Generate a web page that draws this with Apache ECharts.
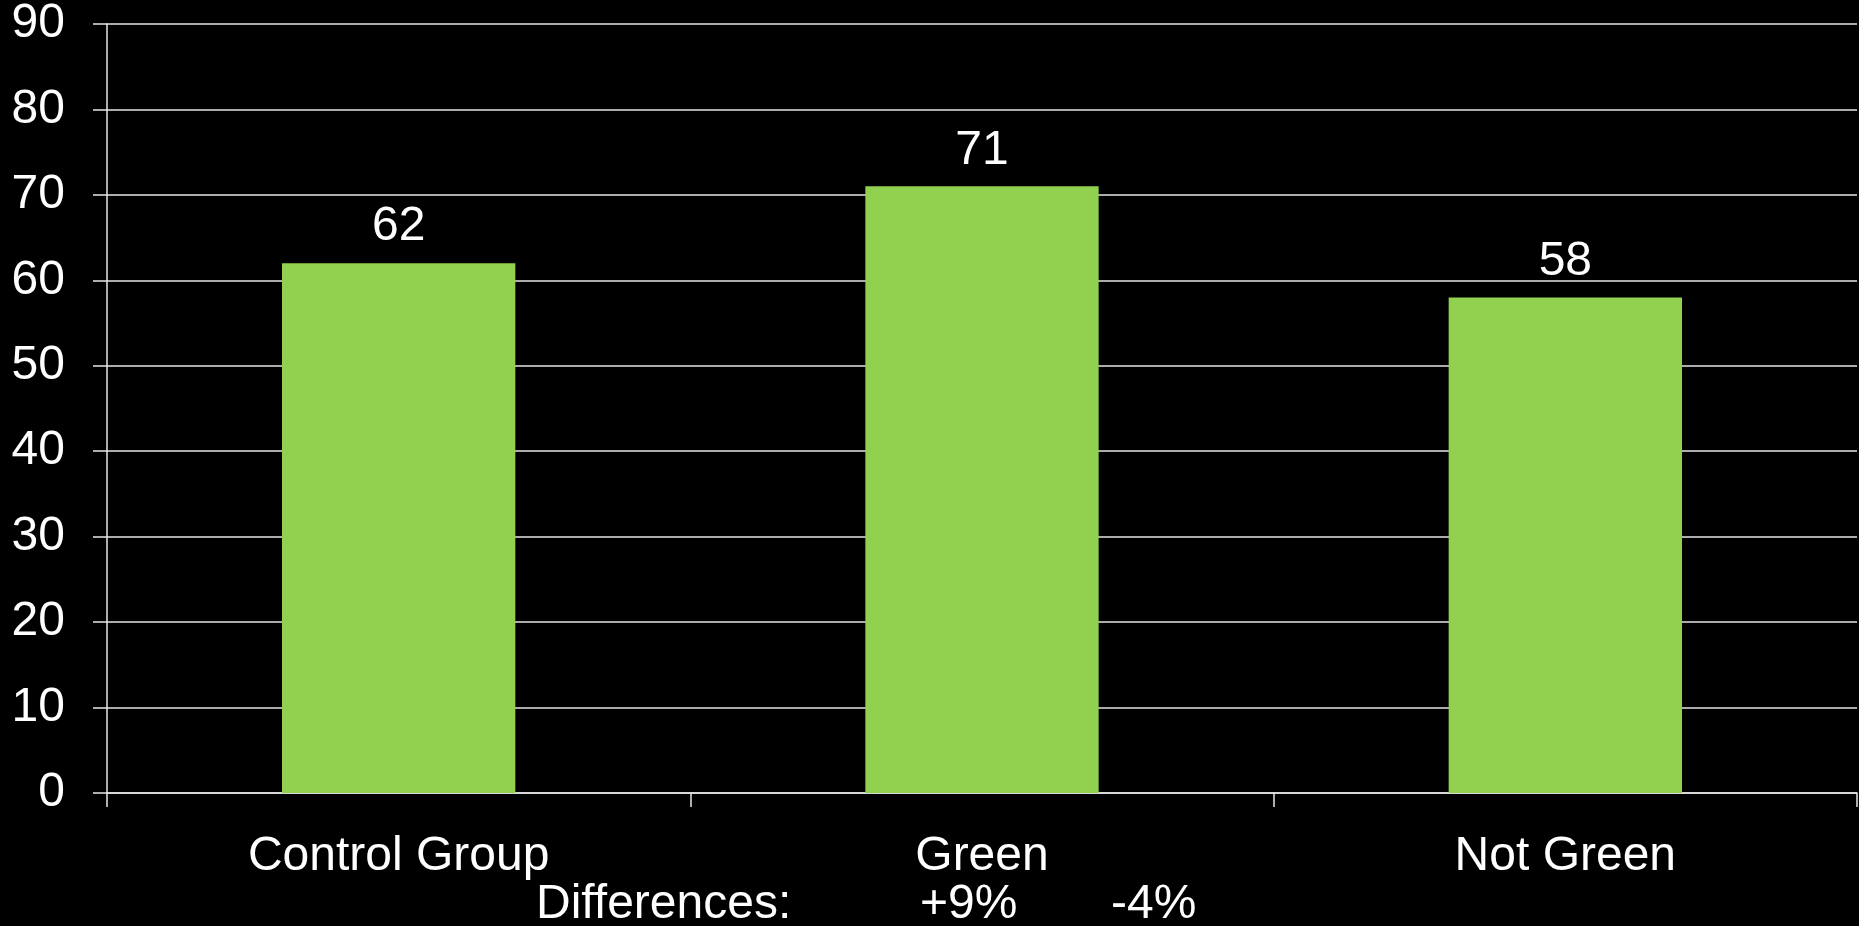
<!DOCTYPE html>
<html>
<head>
<meta charset="utf-8">
<script src="https://cdn.jsdelivr.net/npm/echarts@6/dist/echarts.min.js"></script>
<style>
  html, body { margin: 0; padding: 0; background: #000; }
  #chart { width: 1859px; height: 926px; }
</style>
</head>
<body>
<div id="chart"></div>
<script>
var categories = ['Control Group', 'Green', 'Not Green'];
var scores = [62, 71, 58];
var diffTitle = 'Differences:';
var diffLabels = ['+9%', '-4%'];

var fontFamily = '"Liberation Sans", Arial, sans-serif';
var lineColor = '#e6e6e6';

var myChart = echarts.init(document.getElementById('chart'));

var option = {
    backgroundColor: '#000',
    animation: false,
    grid: {
        left: 107,
        right: 2,
        top: 23,
        bottom: 133
    },
    xAxis: {
        type: 'category',
        data: categories,
        axisLine: { lineStyle: { color: lineColor, width: 1.5 } },
        axisTick: { show: true, length: 14, lineStyle: { color: lineColor, width: 1.5 } },
        axisLabel: {
            color: '#fff',
            fontSize: 48,
            fontFamily: fontFamily,
            margin: 40
        }
    },
    yAxis: {
        type: 'value',
        min: 0,
        max: 90,
        interval: 10,
        axisLine: { show: true, lineStyle: { color: lineColor, width: 1.5 } },
        axisTick: { show: true, length: 14, lineStyle: { color: lineColor, width: 1.5 } },
        splitLine: { show: true, lineStyle: { color: lineColor, width: 1.5 } },
        axisLabel: {
            color: '#fff',
            fontSize: 48,
            fontFamily: fontFamily,
            margin: 42
        }
    },
    series: [
        {
            type: 'bar',
            data: scores,
            barWidth: '40%',
            itemStyle: { color: '#92d050' },
            label: {
                show: true,
                position: 'top',
                distance: 12,
                color: '#fff',
                fontSize: 48,
                fontFamily: fontFamily
            }
        }
    ],
    graphic: [
        {
            type: 'text',
            left: 536,
            top: 881,
            style: { text: diffTitle, fill: '#fff', fontSize: 48, fontFamily: fontFamily }
        },
        {
            type: 'text',
            left: 920,
            top: 881,
            style: { text: diffLabels[0], fill: '#fff', fontSize: 48, fontFamily: fontFamily }
        },
        {
            type: 'text',
            left: 1111,
            top: 881,
            style: { text: diffLabels[1], fill: '#fff', fontSize: 48, fontFamily: fontFamily }
        }
    ]
};

myChart.setOption(option);
</script>
</body>
</html>
